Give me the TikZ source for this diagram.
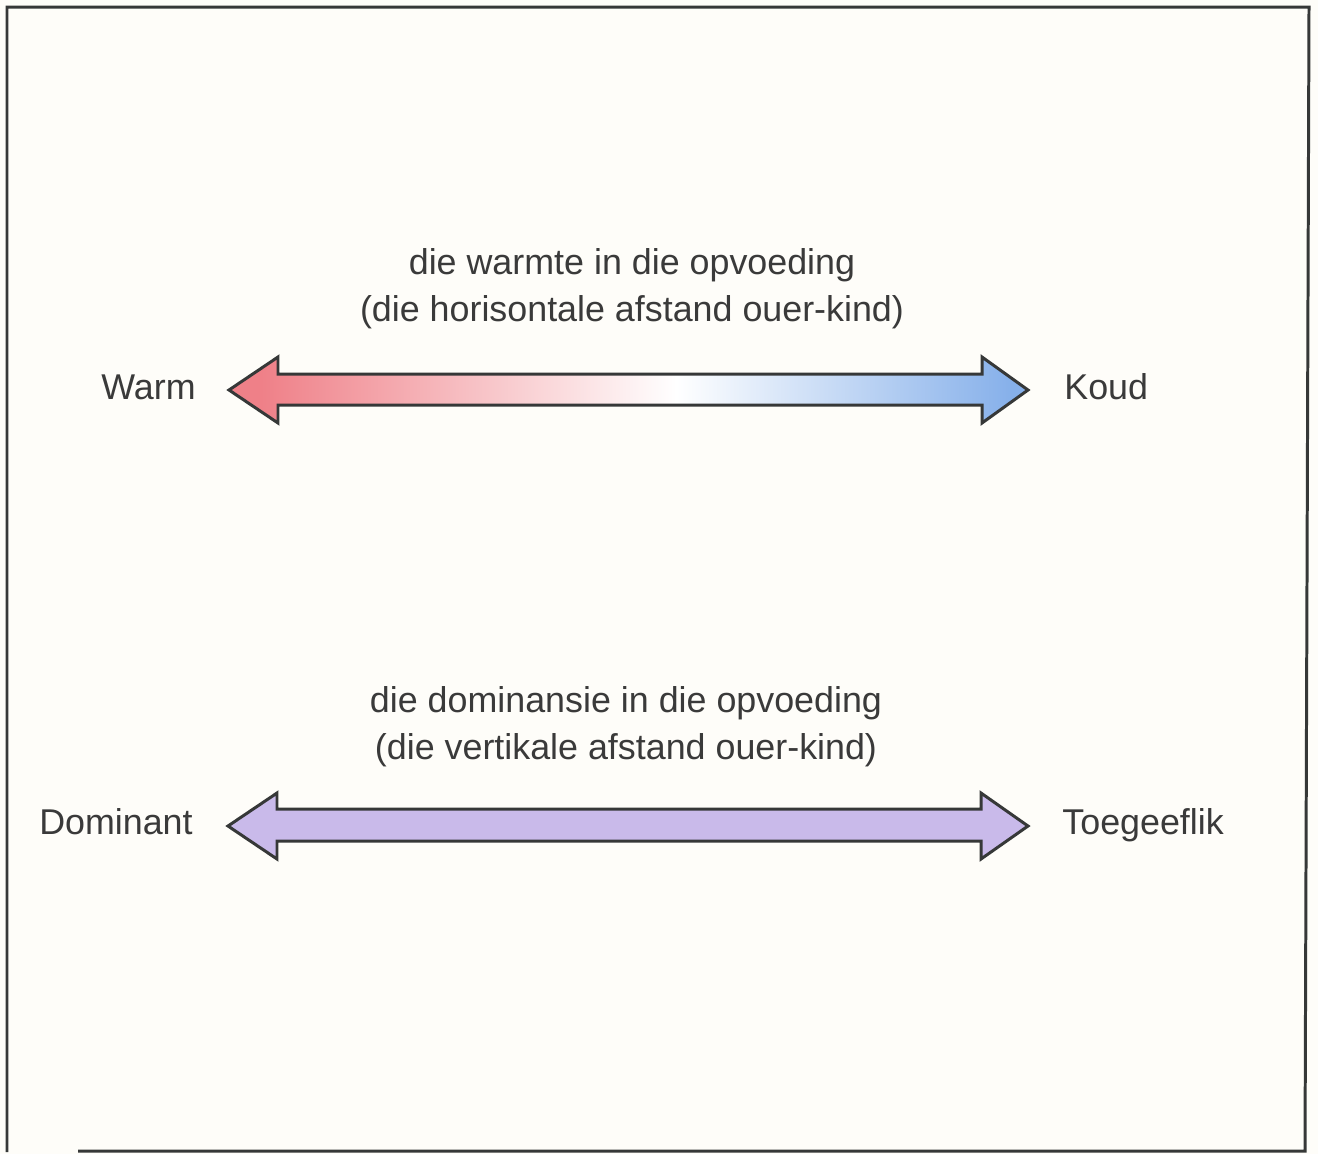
\documentclass[tikz,border=0pt]{standalone}
\usepackage{fontspec}
\setmainfont{Liberation Sans}
\usepackage{xcolor}
\usepackage{tikz}
\definecolor{ink}{HTML}{3A3A3A}
\definecolor{rim}{HTML}{363838}
\definecolor{paper}{HTML}{FEFDF9}
\definecolor{warmred}{HTML}{EF8088}
\definecolor{coldblue}{HTML}{86B0EA}
\definecolor{lavender}{HTML}{C9BAEA}
\pgfdeclarehorizontalshading{warmcold}{100bp}{color(0bp)=(warmred); color(27bp)=(warmred); color(53bp)=(white); color(74bp)=(coldblue); color(100bp)=(coldblue)}

\begin{document}
\begin{tikzpicture}[x=0.02cm, y=-0.02cm, font=\fontsize{20.4}{26.6}\selectfont, text=ink,
    blockarrow/.style={draw=rim, line width=1.7pt, line join=miter}]
    \fill[paper] (0,0) rectangle (1318,1154);
    \useasboundingbox (0,0) rectangle (1318,1154);
    \draw[rim, line width=1.7pt] (78,1151) -- (1305,1151) -- (1309,7) -- (7,7) -- (7,1152);

    \node[align=center, inner sep=0] (warmtitle) at (632,289) {die warmte in die opvoeding\\(die horisontale afstand ouer-kind)};
    \node[anchor=base east, inner sep=0] (warm) at (196,399) {Warm};
    \node[anchor=base west, inner sep=0] (koud) at (1064,399) {Koud};
    \shade[shading=warmcold, blockarrow] (229,390) -- (278,357) -- (278,374) -- (982,374) -- (982,357)
        -- (1028,390) -- (982,423) -- (982,405) -- (278,405) -- (278,423) -- cycle;

    \node[align=center, inner sep=0] (domtitle) at (626,727) {die dominansie in die opvoeding\\(die vertikale afstand ouer-kind)};
    \node[anchor=base east, inner sep=0] (dominant) at (193,834) {Dominant};
    \node[anchor=base west, inner sep=0] (toegeeflik) at (1062,834) {Toegeeflik};
    \filldraw[fill=lavender, blockarrow] (228,826) -- (277,793) -- (277,809) -- (981,809) -- (981,793)
        -- (1028,826) -- (981,859) -- (981,841) -- (277,841) -- (277,859) -- cycle;
\end{tikzpicture}
\end{document}
